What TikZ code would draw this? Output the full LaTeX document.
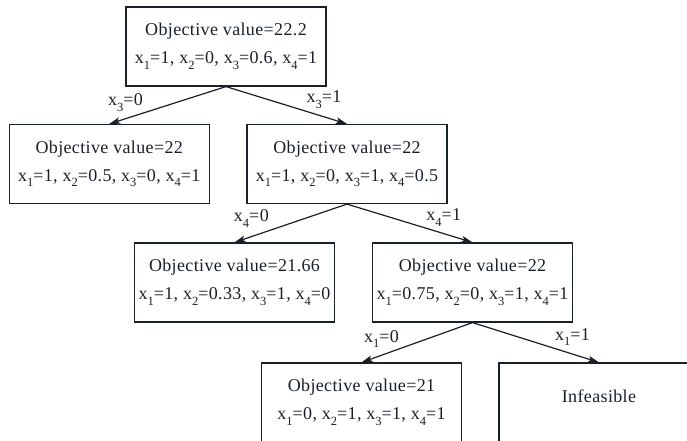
\documentclass[tikz,border=0pt]{standalone}
\usepackage{fontspec}
\setmainfont{Liberation Serif}[LetterSpace=2]
\usepackage{tikz}
\usetikzlibrary{arrows, arrows.meta, positioning}
\definecolor{ink}{RGB}{25, 32, 40}
\newcommand{\xs}[1]{x\raisebox{-0.3em}{\fontsize{12.5}{12.5}\selectfont #1}}

\begin{document}
\begin{tikzpicture}[
    x=1pt, y=-1pt,
    box/.style={rectangle, draw=ink, line width=1.2pt, minimum width=200pt, minimum height=79pt, inner sep=0pt, align=center, text=ink, font=\fontsize{18}{28}\selectfont},
    lbl/.style={text=ink, inner sep=0pt, font=\fontsize{18}{20}\selectfont},
    arrow/.style={-{Stealth[length=11pt, width=6.5pt, inset=2.5pt]}, line width=1.2pt, draw=ink}
]
    \useasboundingbox (0,0) rectangle (687,441);
    \clip (0,0) rectangle (687,441);

    \node[box] (root) at (226,46.5) {Objective value=22.2\\ \xs{1}=1, \xs{2}=0, \xs{3}=0.6, \xs{4}=1};
    \node[box] (l1) at (109.25,164) {Objective value=22\\ \xs{1}=1, \xs{2}=0.5, \xs{3}=0, \xs{4}=1};
    \node[box] (r1) at (347,164) {Objective value=22\\ \xs{1}=1, \xs{2}=0, \xs{3}=1, \xs{4}=0.5};
    \node[box] (l2) at (234.5,282.5) {Objective value=21.66\\ \xs{1}=1, \xs{2}=0.33, \xs{3}=1, \xs{4}=0};
    \node[box] (r2) at (472.5,282.5) {Objective value=22\\ \xs{1}=0.75, \xs{2}=0, \xs{3}=1, \xs{4}=1};
    \node[box] (l3) at (361.5,402.5) {Objective value=21\\ \xs{1}=0, \xs{2}=1, \xs{3}=1, \xs{4}=1};
    \node[box] (r3) at (599,402.5) {Infeasible\\[-16pt]\mbox{}};

    \draw[arrow] (root.south) -- node[lbl, pos=0.86, yshift=16pt] (e1) {\xs{3}=0} (l1.north);
    \draw[arrow] (root.south) -- node[lbl, pos=0.81, yshift=17pt] (e2) {\xs{3}=1} (r1.north);
    \draw[arrow] (r1.south) -- node[lbl, pos=0.85, yshift=18pt] (e3) {\xs{4}=0} (l2.north);
    \draw[arrow] (r1.south) -- node[lbl, pos=0.77, yshift=16pt] (e4) {\xs{4}=1} (r2.north);
    \draw[arrow] (r2.south) -- node[lbl, pos=0.82, yshift=16pt] (e5) {\xs{1}=0} (l3.north);
    \draw[arrow] (r2.south) -- node[lbl, pos=0.79, yshift=17pt] (e6) {\xs{1}=1} (r3.north);
\end{tikzpicture}
\end{document}
